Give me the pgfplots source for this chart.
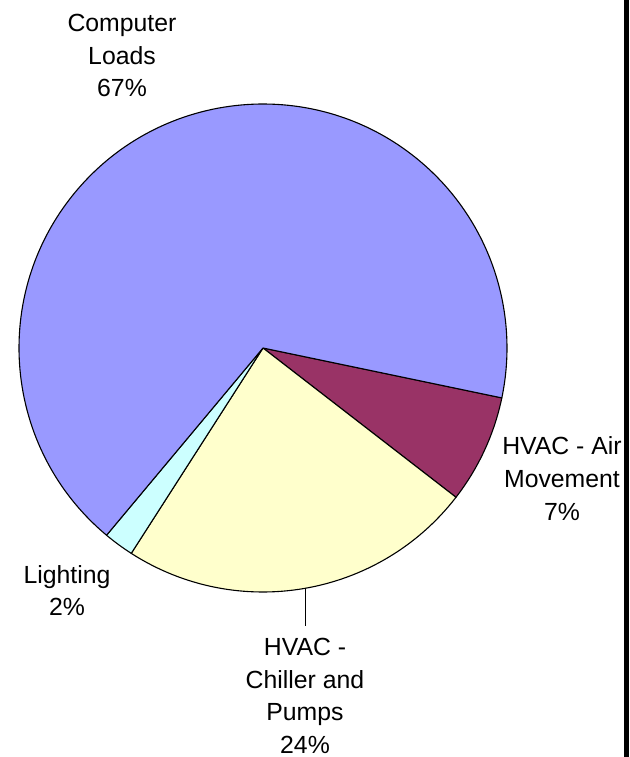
\documentclass[border=0pt]{standalone}
\usepackage{pgfplots}
\pgfplotsset{compat=1.18}
\usepackage{pgfplotstable}
\usepackage{fontspec}
\setmainfont{Liberation Sans}

\definecolor{compc}{RGB}{153,153,255}
\definecolor{airc}{RGB}{153,51,102}
\definecolor{chillc}{RGB}{255,255,204}
\definecolor{lightc}{RGB}{204,255,255}

% shares in percent, clockwise from the first slice
\pgfplotstableread[col sep=comma]{
share,color
7.2,airc
23.6,chillc
2.0,lightc
67.2,compc
}\piedata

\begin{document}
\begin{tikzpicture}[x=0.5pt,y=0.5pt]
\useasboundingbox (0,0) rectangle (629,757);
\clip (0,0) rectangle (629,757);

% slice angles from the table
\def\angcur{-11.8}
\pgfplotsforeachungrouped \i in {0,...,3}{%
  \pgfplotstablegetelem{\i}{share}\of\piedata
  \pgfmathsetmacro\angnext{\angcur-3.6*\pgfplotsretval}%
  \expandafter\xdef\csname pieA\i\endcsname{\angcur}%
  \expandafter\xdef\csname pieB\i\endcsname{\angnext}%
  \pgfplotstablegetelem{\i}{color}\of\piedata
  \expandafter\xdef\csname pieC\i\endcsname{\pgfplotsretval}%
  \global\let\angcur\angnext
}

\begin{axis}[
    at={(0,0)}, anchor=south west,
    scale only axis, width=314.5pt, height=378.5pt,
    xmin=0, xmax=629, ymin=0, ymax=757,
    hide axis, clip=false,
    ]
\pgfplotsinvokeforeach{0,...,3}{%
  \edef\temp{\noexpand\fill[fill=\csname pieC#1\endcsname, draw=black,
      line width=0.55pt, line join=round]
    (axis cs:263,409) -- ++(\csname pieA#1\endcsname:122pt)
    arc[start angle=\csname pieA#1\endcsname,
        end angle=\csname pieB#1\endcsname, radius=122pt] -- cycle;}%
  \temp
}
\draw[line width=0.5pt] (axis cs:305,169) -- (axis cs:305,131);

\tikzset{lbl/.style={align=center, inner sep=0pt,
    font=\fontsize{12.4}{16.4}\selectfont}}
\node[lbl] at (axis cs:122,701.5) {Computer\\Loads\\67\%};
\node[lbl] at (axis cs:562,278.5) {HVAC - Air\\Movement\\7\%};
\node[lbl] at (axis cs:305,61) {HVAC -\\Chiller and\\Pumps\\24\%};
\node[lbl] at (axis cs:67,166.5) {Lighting\\2\%};
\end{axis}
\fill[black] (624,0) rectangle (629,757);
\end{tikzpicture}
\end{document}
